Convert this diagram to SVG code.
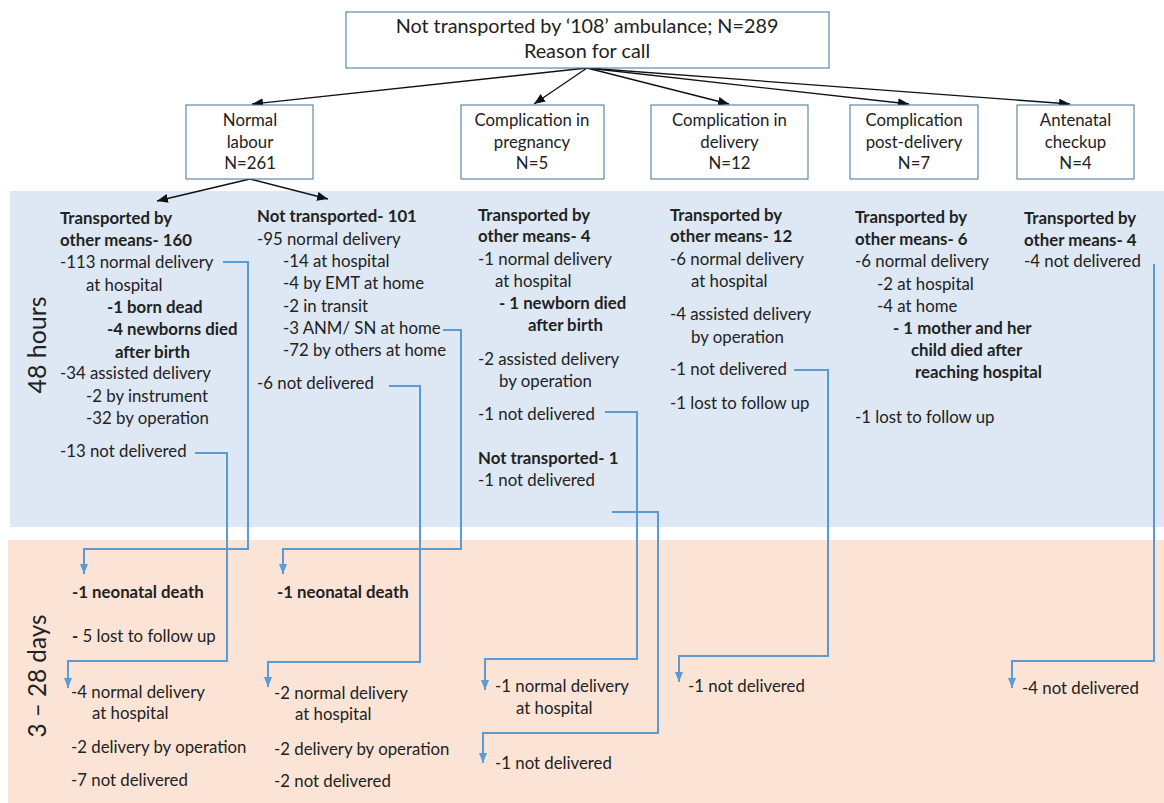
<svg xmlns="http://www.w3.org/2000/svg" width="1164" height="803" viewBox="0 0 1164 803">
<style>
text{font-family:Lato,"Liberation Sans",sans-serif;font-size:16.8px;fill:#222}
.b{font-weight:bold}
.c{text-anchor:middle}
.big{font-size:19.8px}
.side{font-size:25px;text-anchor:middle}
.box{fill:#fff;stroke:#41719c;stroke-width:1}
.arr{stroke:#111;stroke-width:1.3;fill:none;marker-end:url(#ah)}
.con{stroke:#5b9bd5;stroke-width:2;fill:none;marker-end:url(#bh)}
</style>
<defs>
<marker id="ah" markerUnits="userSpaceOnUse" markerWidth="11" markerHeight="9" refX="11" refY="4.5" orient="auto"><path d="M0,0 L11,4.5 L0,9 z" fill="#111"/></marker>
<marker id="bh" markerUnits="userSpaceOnUse" markerWidth="10" markerHeight="8" refX="10" refY="4" orient="auto"><path d="M0,0 L10,4 L0,8 z" fill="#5b9bd5"/></marker>
</defs>
<rect width="1164" height="803" fill="#fff"/>
<rect x="10" y="191" width="1154" height="336" fill="#dde8f4"/>
<rect x="8" y="540" width="1156" height="263" fill="#fbe4d6"/>
<text class="side" transform="translate(46,345) rotate(-90)" textLength="97" lengthAdjust="spacingAndGlyphs">48 hours</text>
<text class="side" transform="translate(46,676) rotate(-90)" textLength="123" lengthAdjust="spacingAndGlyphs">3 – 28 days</text>

<g id="connectors">
<path class="arr" d="M587,68 L252,104"/>
<path class="arr" d="M587,68 L534,104"/>
<path class="arr" d="M587,68 L729,104"/>
<path class="arr" d="M587,68 L909,104"/>
<path class="arr" d="M587,68 L1070,104"/>
<path class="arr" d="M250,179 L157,201"/>
<path class="arr" d="M250,179 L328,199"/>
<path class="con" d="M223,262 H248 V549 H84 V574"/>
<path class="con" d="M195,453 H227 V661 H68 V688"/>
<path class="con" d="M443,330 H461 V549 H283 V574"/>
<path class="con" d="M389,386 H420 V662 H268 V687"/>
<path class="con" d="M605,412 H637 V659 H485 V690"/>
<path class="con" d="M612,512 H658 V733 H483 V763"/>
<path class="con" d="M794,370 H828 V656 H679 V682"/>
<path class="con" d="M1154,264 V661 H1012 V688"/>
</g>

<g id="root">
<rect class="box" x="346" y="12" width="483" height="56"/>
<text class="c big" x="587" y="33">Not transported by ‘108’ ambulance; N=289</text>
<text class="c big" x="587" y="58">Reason for call</text>
</g>
<g id="normal-labour">
<rect class="box" x="186" y="105" width="127" height="74"/>
<text class="c" x="250" y="126">Normal</text>
<text class="c" x="250" y="148">labour</text>
<text class="c" x="250" y="169">N=261</text>
</g>
<g id="comp-pregnancy">
<rect class="box" x="461" y="105" width="143" height="74"/>
<text class="c" x="532" y="126">Complication in</text>
<text class="c" x="532" y="148">pregnancy</text>
<text class="c" x="532" y="169">N=5</text>
</g>
<g id="comp-delivery">
<rect class="box" x="651" y="105" width="157" height="74"/>
<text class="c" x="729.5" y="126">Complication in</text>
<text class="c" x="729.5" y="148">delivery</text>
<text class="c" x="729.5" y="169">N=12</text>
</g>
<g id="comp-post">
<rect class="box" x="850" y="105" width="128" height="74"/>
<text class="c" x="914" y="126">Complication</text>
<text class="c" x="914" y="148">post-delivery</text>
<text class="c" x="914" y="169">N=7</text>
</g>
<g id="antenatal">
<rect class="box" x="1017" y="105" width="117" height="74"/>
<text class="c" x="1075.5" y="126">Antenatal</text>
<text class="c" x="1075.5" y="148">checkup</text>
<text class="c" x="1075.5" y="169">N=4</text>
</g>

<g id="nl-transported">
<text class="b" x="60" y="224">Transported by</text>
<text class="b" x="60" y="246">other means- 160</text>
<text x="60" y="268">-113 normal delivery</text>
<text x="86" y="291">at hospital</text>
<text class="b" x="107" y="313">-1 born dead</text>
<text class="b" x="107" y="335">-4 newborns died</text>
<text class="b" x="115" y="358">after birth</text>
<text x="60" y="379">-34 assisted delivery</text>
<text x="86" y="402">-2 by instrument</text>
<text x="86" y="424">-32 by operation</text>
<text x="60" y="457">-13 not delivered</text>
</g>
<g id="nl-not-transported">
<text class="b" x="257" y="222">Not transported- 101</text>
<text x="257" y="245">-95 normal delivery</text>
<text x="283" y="267">-14 at hospital</text>
<text x="283" y="289">-4 by EMT at home</text>
<text x="283" y="312">-2 in transit</text>
<text x="283" y="334">-3 ANM/ SN at home</text>
<text x="283" y="356">-72 by others at home</text>
<text x="257" y="389">-6 not delivered</text>
</g>
<g id="cp-outcomes">
<text class="b" x="478" y="221">Transported by</text>
<text class="b" x="478" y="242">other means- 4</text>
<text x="478" y="265">-1 normal delivery</text>
<text x="495" y="287">at hospital</text>
<text class="b" x="499" y="309">- 1 newborn died</text>
<text class="b" x="528" y="331">after birth</text>
<text x="478" y="365">-2 assisted delivery</text>
<text x="499" y="387">by operation</text>
<text x="478" y="420">-1 not delivered</text>
<text class="b" x="478" y="464">Not transported- 1</text>
<text x="478" y="486">-1 not delivered</text>
</g>
<g id="cd-outcomes">
<text class="b" x="670" y="221">Transported by</text>
<text class="b" x="670" y="242">other means- 12</text>
<text x="670" y="265">-6 normal delivery</text>
<text x="691" y="287">at hospital</text>
<text x="670" y="320">-4 assisted delivery</text>
<text x="691" y="343">by operation</text>
<text x="670" y="375">-1 not delivered</text>
<text x="670" y="409">-1 lost to follow up</text>
</g>
<g id="cpd-outcomes">
<text class="b" x="855" y="223">Transported by</text>
<text class="b" x="855" y="245">other means- 6</text>
<text x="855" y="267">-6 normal delivery</text>
<text x="877" y="290">-2 at hospital</text>
<text x="877" y="312">-4 at home</text>
<text class="b" x="893" y="334">- 1 mother and her</text>
<text class="b" x="911" y="356">child died after</text>
<text class="b" x="915" y="378">reaching hospital</text>
<text x="855" y="423">-1 lost to follow up</text>
</g>
<g id="an-outcomes">
<text class="b" x="1024" y="224">Transported by</text>
<text class="b" x="1024" y="246">other means- 4</text>
<text x="1024" y="267">-4 not delivered</text>
</g>

<g id="nl-t-followup">
<text class="b" x="72" y="598">-1 neonatal death</text>
<text x="72" y="642"><tspan class="b">-</tspan> 5 lost to follow up</text>
<text x="71" y="698">-4 normal delivery</text>
<text x="92" y="719">at hospital</text>
<text x="71" y="753">-2 delivery by operation</text>
<text x="71" y="786">-7 not delivered</text>
</g>
<g id="nl-nt-followup">
<text class="b" x="277" y="598">-1 neonatal death</text>
<text x="274" y="699">-2 normal delivery</text>
<text x="295" y="720">at hospital</text>
<text x="274" y="755">-2 delivery by operation</text>
<text x="274" y="787">-2 not delivered</text>
</g>
<g id="cp-followup">
<text x="495" y="692">-1 normal delivery</text>
<text x="516" y="714">at hospital</text>
<text x="495" y="769">-1 not delivered</text>
</g>
<g id="cd-followup">
<text x="688" y="692">-1 not delivered</text>
</g>
<g id="an-followup">
<text x="1022" y="694">-4 not delivered</text>
</g>
</svg>
